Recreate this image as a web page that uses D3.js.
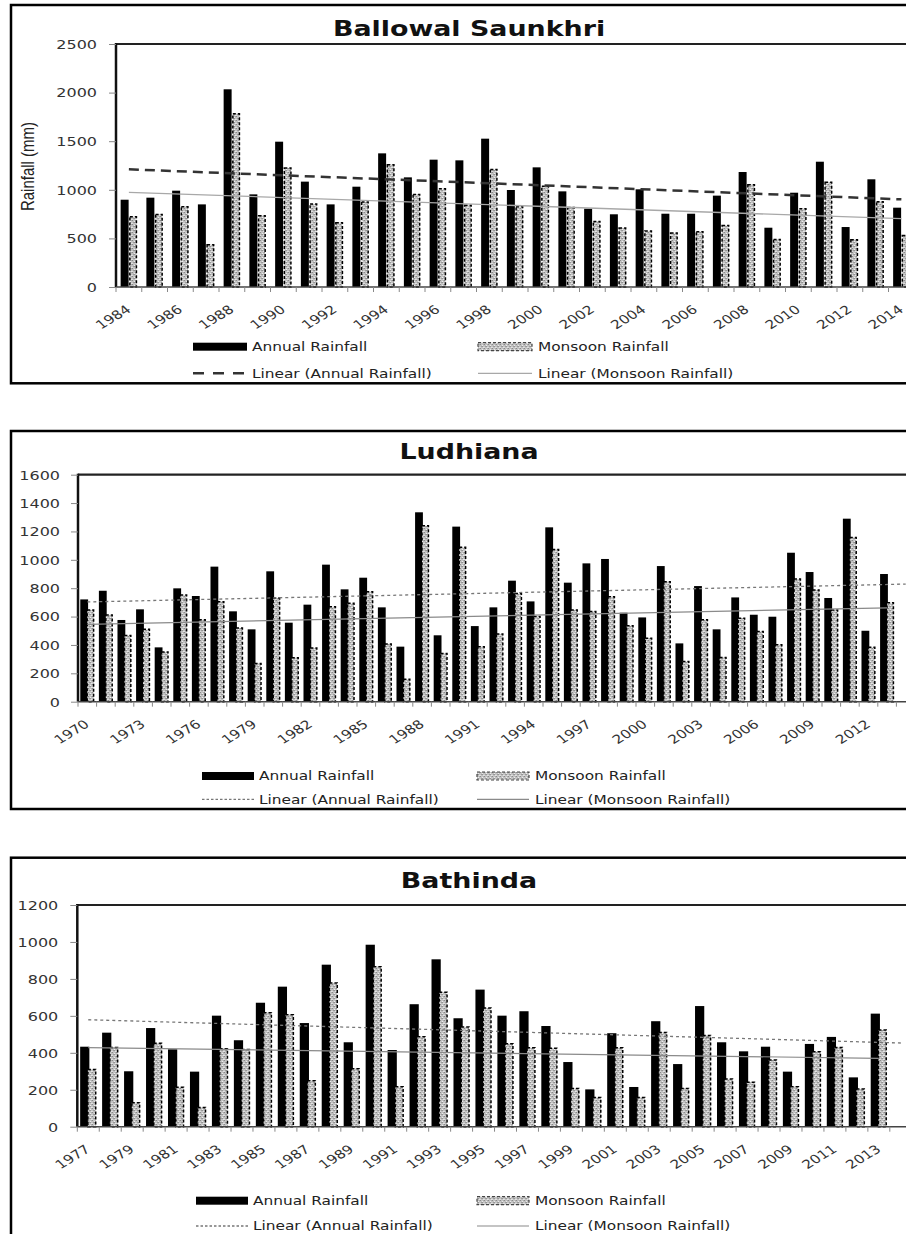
<!DOCTYPE html>
<html><head><meta charset="utf-8">
<script src="https://cdn.jsdelivr.net/npm/d3@7"></script>
<style>html,body{margin:0;padding:0;background:#fff;overflow:hidden}svg{display:block}</style>
</head><body>
<script>
// ---------------- DATA ----------------
const ballowalYears = [1984,1985,1986,1987,1988,1989,1990,1991,1992,1993,1994,1995,1996,1997,1998,1999,2000,2001,2002,2003,2004,2005,2006,2007,2008,2009,2010,2011,2012,2013,2014];
const ballowalAnnual = [898,919,991,850,2034,953,1495,1084,850,1032,1375,1128,1310,1303,1526,998,1231,984,806,748,1005,754,754,940,1183,610,970,1289,617,1108,816];
const ballowalMonsoon = [730,754,833,442,1790,741,1231,861,669,881,1265,960,1018,847,1217,833,1043,826,682,614,583,562,576,641,1060,497,813,1084,494,885,538];
const ballowalTrendAnnualYears = [1984, 2014];
const ballowalTrendAnnual = [1211, 902];
const ballowalTrendMonsoonYears = [1984, 2014];
const ballowalTrendMonsoon = [974, 703];
const ballowalYTicks = [0,500,1000,1500,2000,2500];
const ballowalXLabels = [1984,1986,1988,1990,1992,1994,1996,1998,2000,2002,2004,2006,2008,2010,2012,2014];

const ludhianaYears = [1970,1971,1972,1973,1974,1975,1976,1977,1978,1979,1980,1981,1982,1983,1984,1985,1986,1987,1988,1989,1990,1991,1992,1993,1994,1995,1996,1997,1998,1999,2000,2001,2002,2003,2004,2005,2006,2007,2008,2009,2010,2011,2012,2013,2014];
const ludhianaAnnual = [721,782,576,651,383,799,745,952,637,510,919,557,684,966,792,874,665,388,1335,468,1234,533,665,853,707,1229,839,975,1006,627,594,956,411,815,510,735,613,599,1050,914,731,1290,500,900];
const ludhianaMonsoon = [651,616,472,515,355,757,583,710,524,275,735,315,383,674,698,780,411,164,1245,345,1093,392,482,768,606,1078,651,641,745,540,453,851,289,583,317,594,500,406,869,792,651,1163,388,703];
const ludhianaTrendAnnualYears = [1970, 2014];
const ludhianaTrendAnnual = [703, 829];
const ludhianaTrendMonsoonYears = [1970, 2013];
const ludhianaTrendMonsoon = [545, 662];
const ludhianaYTicks = [0,200,400,600,800,1000,1200,1400,1600];
const ludhianaXLabels = [1970,1973,1976,1979,1982,1985,1988,1991,1994,1997,2000,2003,2006,2009,2012];

const bathindaYears = [1977,1978,1979,1980,1981,1982,1983,1984,1985,1986,1987,1988,1989,1990,1991,1992,1993,1994,1995,1996,1997,1998,1999,2000,2001,2002,2003,2004,2005,2006,2007,2008,2009,2010,2011,2012,2013,2014];
const bathindaAnnual = [433,509,300,534,419,298,601,468,671,758,561,877,457,985,415,663,906,587,742,601,625,545,350,202,506,215,571,339,653,457,408,433,298,448,486,267,612];
const bathindaMonsoon = [314,433,134,455,217,108,426,422,621,610,253,782,318,870,220,491,731,543,646,453,431,428,211,162,431,162,514,211,498,262,244,365,220,410,433,208,527];
const bathindaTrendAnnualYears = [1977, 2014];
const bathindaTrendAnnual = [579, 453];
const bathindaTrendMonsoonYears = [1977, 2013];
const bathindaTrendMonsoon = [428, 370];
const bathindaYTicks = [0,200,400,600,800,1000,1200];
const bathindaXLabels = [1977,1979,1981,1983,1985,1987,1989,1991,1993,1995,1997,1999,2001,2003,2005,2007,2009,2011,2013];

const legendLabels = ["Annual Rainfall","Monsoon Rainfall","Linear (Annual Rainfall)","Linear (Monsoon Rainfall)"];

// ---------------- DRAWING ----------------
const W = 906, H = 1234, SX = 1.28;
const FONT = "'DejaVu Sans', Verdana, sans-serif";
const svg = d3.select("body").append("svg").attr("width", W).attr("height", H);

const defs = svg.append("defs");
const pat = defs.append("pattern").attr("id","mott").attr("patternUnits","userSpaceOnUse").attr("width",4).attr("height",4);
pat.append("rect").attr("width",4).attr("height",4).attr("fill","#c2c2c2");
[[0,0,"#8a8a8a"],[2,1,"#ececec"],[1,2,"#9c9c9c"],[3,3,"#e4e4e4"],[3,0,"#acacac"],[0,3,"#dcdcdc"],[2,2,"#959595"]].forEach(([x,y,c])=>
  pat.append("rect").attr("x",x).attr("y",y).attr("width",1).attr("height",1).attr("fill",c));

function stext(g, x, y, str, o = {}) {
  const t = g.append("g")
    .attr("transform", `translate(${x},${y}) scale(${SX},1)` + (o.rotate ? ` rotate(${o.rotate})` : ""))
    .append("text")
    .attr("text-anchor", o.anchor || "start")
    .attr("dy", o.dy || "0.35em")
    .attr("font-family", o.family || FONT)
    .attr("font-size", o.size || 12)
    .attr("font-weight", o.weight || "normal")
    .attr("fill", o.fill || "#222")
    .text(str);
  return t;
}

const panels = [
  { title:"Ballowal Saunkhri", years:ballowalYears, annual:ballowalAnnual, monsoon:ballowalMonsoon,
    tAY:ballowalTrendAnnualYears, tA:ballowalTrendAnnual, tMY:ballowalTrendMonsoonYears, tM:ballowalTrendMonsoon,
    yTicks:ballowalYTicks, xLabels:ballowalXLabels,
    box:[5,383.3], titleY:28.3, left:116, top:44, bottom:287, band:25.75, labelRight:97,
    barW:0.31, overlap:-0.02, legY:[346.7,373.3], legAx:193, legMx:478, legW:54,
    aTrend:{stroke:"#333", width:2.5, dash:"10,6"}, mTrend:{stroke:"#a8a8a8", width:1.3},
    yTitle:true },
  { title:"Ludhiana", years:ludhianaYears, annual:ludhianaAnnual, monsoon:ludhianaMonsoon,
    tAY:ludhianaTrendAnnualYears, tA:ludhianaTrendAnnual, tMY:ludhianaTrendMonsoonYears, tM:ludhianaTrendMonsoon,
    yTicks:ludhianaYTicks, xLabels:ludhianaXLabels,
    box:[431,809], titleY:451.7, left:78, top:474.7, bottom:701.7, band:18.6, labelRight:60,
    barW:0.42, overlap:0.086, legY:[776,799.3], legAx:202, legMx:477, legW:52,
    aTrend:{stroke:"#777", width:1.3, dash:"3,3"}, mTrend:{stroke:"#8a8a8a", width:1.2} },
  { title:"Bathinda", years:bathindaYears, annual:bathindaAnnual, monsoon:bathindaMonsoon,
    tAY:bathindaTrendAnnualYears, tA:bathindaTrendAnnual, tMY:bathindaTrendMonsoonYears, tM:bathindaTrendMonsoon,
    yTicks:bathindaYTicks, xLabels:bathindaXLabels,
    box:[857.7,1235.5], titleY:881, left:77.3, top:905, bottom:1126.7, band:21.96, labelRight:58.3,
    barW:0.42, overlap:0.1, legY:[1200.7,1226], legAx:196, legMx:477, legW:52,
    aTrend:{stroke:"#777", width:1.3, dash:"3,3"}, mTrend:{stroke:"#8a8a8a", width:1.2} }
];

panels.forEach(p => {
  const g = svg.append("g");
  g.append("rect").attr("x",11).attr("y",p.box[0]).attr("width",916).attr("height",p.box[1]-p.box[0])
    .attr("fill","#fff").attr("stroke","#000").attr("stroke-width",2.5);
  stext(g, 469, p.titleY, p.title, {anchor:"middle", size:21, weight:"bold", dy:0, fill:"#111"});

  const right = p.left + p.years.length * p.band;
  const x = d3.scaleBand().domain(p.years).range([p.left, right]).padding(0);
  const y = d3.scaleLinear().domain([0, d3.max(p.yTicks)]).range([p.bottom, p.top]);
  const bw = x.bandwidth();
  const w = bw * p.barW, ov = bw * p.overlap;
  const off = (bw - (2*w - ov)) / 2;

  const dataA = p.annual.map((v,i)=>({yr:p.years[i], v}));
  const dataM = p.monsoon.map((v,i)=>({yr:p.years[i], v}));
  g.append("g").selectAll("rect").data(dataA).join("rect")
    .attr("x", d=>x(d.yr)+off).attr("width", w)
    .attr("y", d=>y(d.v)).attr("height", d=>y(0)-y(d.v)).attr("fill","#000");
  g.append("g").selectAll("rect").data(dataM).join("rect")
    .attr("x", d=>x(d.yr)+off+w-ov+0.7).attr("width", w-1.4)
    .attr("y", d=>y(d.v)+0.7).attr("height", d=>Math.max(0,y(0)-y(d.v)-0.7))
    .attr("fill","url(#mott)").attr("stroke","#000").attr("stroke-width",1.5).attr("stroke-dasharray","3,2");

  const cx = yr => x(yr) + bw/2;
  const line = d3.line().x(d=>cx(d[0])).y(d=>y(d[1]));
  g.append("path").datum(p.tMY.map((yr,i)=>[yr,p.tM[i]])).attr("d", line)
    .attr("fill","none").attr("stroke",p.mTrend.stroke).attr("stroke-width",p.mTrend.width);
  g.append("path").datum(p.tAY.map((yr,i)=>[yr,p.tA[i]])).attr("d", line)
    .attr("fill","none").attr("stroke",p.aTrend.stroke).attr("stroke-width",p.aTrend.width)
    .attr("stroke-dasharray",p.aTrend.dash);

  g.append("line").attr("x1",p.left).attr("x2",right+20).attr("y1",p.top).attr("y2",p.top)
    .attr("stroke","#222").attr("stroke-width",2.2);
  g.append("line").attr("x1",p.left).attr("x2",p.left).attr("y1",p.top-1).attr("y2",p.bottom)
    .attr("stroke","#111").attr("stroke-width",2.5);
  g.append("line").attr("x1",p.left).attr("x2",right+20).attr("y1",p.bottom).attr("y2",p.bottom)
    .attr("stroke","#444").attr("stroke-width",1.6);

  const ya = g.append("g").attr("transform",`translate(${p.left},0)`)
    .call(d3.axisLeft(y).tickValues(p.yTicks).tickSize(7).tickSizeOuter(0).tickFormat(d3.format("d")));
  ya.select(".domain").remove();
  ya.selectAll(".tick line").attr("stroke","#888");
  ya.selectAll(".tick text").attr("x",0).attr("dy","0.35em")
    .attr("transform",`translate(${p.labelRight-p.left},0) scale(${SX},1)`)
    .attr("text-anchor","end").attr("font-family",FONT).attr("font-size",12.5).attr("fill","#333");

  g.append("g").selectAll("line").data(p.years.concat(["end"])).join("line")
    .attr("x1", d=> d==="end" ? right : x(d)).attr("x2", d=> d==="end" ? right : x(d))
    .attr("y1", p.bottom).attr("y2", p.bottom+5).attr("stroke","#888").attr("stroke-width",1);

  const xa = g.append("g").attr("transform",`translate(0,${p.bottom})`)
    .call(d3.axisBottom(x).tickValues(p.xLabels).tickSize(0).tickSizeOuter(0));
  xa.select(".domain").remove();
  xa.selectAll(".tick line").remove();
  xa.selectAll(".tick text").attr("x",0).attr("y",0).attr("dy",0)
    .attr("transform",`translate(3,24) scale(${SX},1) rotate(-38)`)
    .attr("text-anchor","end").attr("font-family",FONT).attr("font-size",12).attr("fill","#333");

  if (p.yTitle) {
    stext(g, 27, 166.5, "Rainfall (mm)", {rotate:-90, anchor:"middle", size:15,
      family:"'Liberation Sans Narrow','Arial Narrow','Liberation Sans',sans-serif", fill:"#222"});
  }

  const [r1, r2] = p.legY;
  g.append("rect").attr("x",p.legAx).attr("y",r1-4).attr("width",p.legW).attr("height",8).attr("fill","#000");
  stext(g, p.legAx+p.legW+5, r1, legendLabels[0], {size:12});
  g.append("rect").attr("x",p.legMx).attr("y",r1-4).attr("width",p.legW).attr("height",8)
    .attr("fill","url(#mott)").attr("stroke","#444").attr("stroke-width",1.2).attr("stroke-dasharray","3,2");
  stext(g, p.legMx+p.legW+6, r1, legendLabels[1], {size:12});
  g.append("line").attr("x1",p.legAx).attr("x2",p.legAx+p.legW).attr("y1",r2).attr("y2",r2)
    .attr("stroke",p.aTrend.stroke).attr("stroke-width",p.aTrend.width).attr("stroke-dasharray",p.yTitle ? "11,9" : "2.5,2");
  stext(g, p.legAx+p.legW+5, r2, legendLabels[2], {size:12});
  g.append("line").attr("x1",p.legMx).attr("x2",p.legMx+p.legW).attr("y1",r2).attr("y2",r2)
    .attr("stroke",p.mTrend.stroke).attr("stroke-width",p.mTrend.width);
  stext(g, p.legMx+p.legW+6, r2, legendLabels[3], {size:12});
});
</script>
</body></html>
